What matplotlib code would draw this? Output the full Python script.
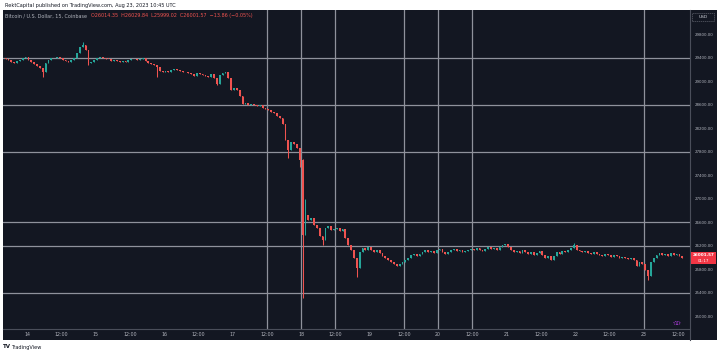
import matplotlib
matplotlib.use("Agg")
import matplotlib.pyplot as plt
from matplotlib.patches import Rectangle, Circle
from matplotlib.lines import Line2D
import numpy as np

# ---------------- data (hourly candles, hours relative to Aug 14 00:00) ----------------
first_open = 29400
closes = [
    29383, 29366, 29332, 29315, 29349, 29366, 29400, 29417, 29366, 29332,
    29298, 29264, 29230, 29162, 29315, 29366, 29400, 29395, 29417, 29400,
    29366, 29349, 29332, 29366, 29400, 29485, 29587, 29621, 29536, 29315,
    29332, 29366, 29400, 29417, 29405, 29390, 29383, 29349, 29366, 29349,
    29332, 29349, 29332, 29366, 29383, 29378, 29366, 29383, 29400, 29349,
    29315, 29298, 29281, 29247, 29179, 29162, 29179, 29162, 29196, 29213,
    29196, 29179, 29162, 29155, 29145, 29128, 29094, 29145, 29128, 29111,
    29094, 29077, 29128, 29060, 28957, 29111, 29145, 29162, 29060, 28855,
    28889, 28855, 28753, 28617, 28634, 28600, 28617, 28600, 28583, 28600,
    28549, 28532, 28515, 28481, 28464, 28413, 28379, 28277, 28004, 27834,
    27970, 27936, 27868, 27664, 26387, 26728, 26643, 26677, 26558, 26506,
    26370, 26302, 26506, 26541, 26472, 26489, 26506, 26455, 26489, 26336,
    26217, 26132, 25996, 25826, 26098, 26166, 26132, 26183, 26132, 26098,
    26132, 26081, 26030, 25996, 25962, 25928, 25894, 25860, 25894, 25928,
    25962, 25996, 26047, 26064, 26030, 26064, 26098, 26132, 26098, 26115,
    26081, 26132, 26149, 26098, 26064, 26098, 26132, 26149, 26115, 26132,
    26098, 26115, 26132, 26149, 26132, 26166, 26132, 26115, 26149, 26183,
    26149, 26166, 26132, 26183, 26217, 26234, 26183, 26132, 26098, 26115,
    26081, 26132, 26098, 26064, 26098, 26047, 26081, 26115, 26047, 25996,
    26030, 25962, 26030, 26098, 26064, 26115, 26098, 26132, 26166, 26217,
    26132, 26115, 26098, 26115, 26081, 26064, 26098, 26064, 26047, 26030,
    26064, 26047, 26013, 26047, 26030, 25996, 26013, 25996, 25979, 25996,
    25962, 25860, 25928, 25894, 25792, 25690, 25928, 25996, 26047, 26081,
    26047, 26064, 26030, 26081, 26047, 26064, 26030, 26001.57,
]
wick_highs = {27: 29672, 104: 27680, 105: 27000, 199: 26250}
wick_lows = {13: 29077, 29: 29281, 53: 29077, 74: 28940, 99: 27700,
             103: 27545, 104: 25315, 111: 26217, 123: 25673, 225: 25622}

level_prices = [29400, 28600, 27800, 26600, 26200, 25400]
vline_hours = [84, 96, 108, 132, 144, 156, 216]

price_ticks = [29800, 29400, 29000, 28600, 28200, 27800, 27400, 27000,
               26600, 26200, 25800, 25400, 25000]
time_tick_labels = ["14", "12:00", "15", "12:00", "16", "12:00", "17", "12:00",
                    "18", "12:00", "19", "12:00", "20", "12:00", "21", "12:00",
                    "22", "12:00", "23", "12:00"]
time_tick_hours = [12 * k for k in range(len(time_tick_labels))]

last_price_label = "26001.57"
countdown_label = "01:17"

# ---------------- figure ----------------
W, H = 720, 354
fig = plt.figure(figsize=(7.2, 3.54), dpi=100)
fig.patch.set_facecolor("white")

def fx(px):
    return px / W

def fy(py):
    return 1 - py / H

BG = "#131722"
UP = "#26a69a"
DN = "#ef5350"
GRID = "#8f929c"
BORDER = "#4a4e5a"
TXT = "#b2b5be"

bgax = fig.add_axes([fx(3), fy(340), fx(714), 330 / H], zorder=-5)
bgax.set_facecolor(BG)
bgax.set_xticks([])
bgax.set_yticks([])
for s in bgax.spines.values():
    s.set_visible(False)

ax = fig.add_axes([fx(3), fy(329), fx(687), 319 / H], zorder=1)
ax.set_facecolor("none")
ax.set_xlim(-8.41, 232.2)
ax.set_ylim(24787, 30217)
for s in ax.spines.values():
    s.set_visible(False)

n = len(closes)
hours = np.arange(n) - 8 + 0.5   # each hourly candle drawn at the middle of its hour
opens = np.array([first_open] + closes[:-1], dtype=float)
cl = np.array(closes, dtype=float)
highs = np.maximum(opens, cl)
lows = np.minimum(opens, cl)
for k, v in wick_highs.items():
    highs[k] = max(highs[k], v)
for k, v in wick_lows.items():
    lows[k] = min(lows[k], v)
colors = [UP if c >= o else DN for o, c in zip(opens, cl)]
body_bottom = np.minimum(opens, cl)
body_h = np.maximum(np.abs(cl - opens), 10)

for lv in level_prices:
    ax.axhline(lv, color=GRID, lw=0.9, zorder=1)
for vh in vline_hours:
    ax.axvline(vh, color=GRID, lw=0.9, zorder=1)

ax.vlines(hours, lows, highs, colors=colors, lw=0.75, zorder=3)
ax.bar(hours, body_h, bottom=body_bottom, width=0.62, color=colors,
       linewidth=0, zorder=4)

ax.yaxis.tick_right()
ax.set_yticks(price_ticks)
ax.set_yticklabels([f"{p:.2f}" for p in price_ticks])
ax.tick_params(axis="y", length=0, pad=3.5, labelsize=2.9, labelcolor=TXT)
ax.set_xticks(time_tick_hours)
ax.set_xticklabels(time_tick_labels)
ax.tick_params(axis="x", length=0, pad=2.5, labelsize=3.4, labelcolor=TXT)

# axis borders
fig.add_artist(Line2D([fx(690), fx(690)], [fy(10), fy(340)], color=BORDER, lw=0.8))
fig.add_artist(Line2D([fx(3), fx(690)], [fy(329), fy(329)], color=BORDER, lw=0.8))

# header texts
fig.text(fx(5), fy(5), "RektCapital published on TradingView.com, Aug 23, 2023 10:45 UTC",
         fontsize=3.6, color="#131722", va="center", ha="left")
t1 = fig.text(fx(5), fy(16), "Bitcoin / U.S. Dollar, 15, Coinbase",
              fontsize=3.5, color=TXT, va="center", ha="left")
fig.canvas.draw()
ext = t1.get_window_extent()
fig.text((ext.x1 + 4) / W, fy(16),
         "O26014.35  H26029.84  L25999.02  C26001.57  \u221213.86 (\u22120.05%)",
         fontsize=3.5, color=DN, va="center", ha="left")

# USD box
fig.patches.append(Rectangle((fx(692), fy(21)), fx(22), 8 / H, transform=fig.transFigure,
                             fc="none", ec="#5d606b", lw=0.5, ls=(0, (2, 1)), zorder=5))
fig.text(fx(703), fy(17), "USD", fontsize=3.2, color="#d1d4dc", ha="center", va="center")

# last price label
fig.patches.append(Rectangle((fx(691), fy(264)), fx(25), 12 / H, transform=fig.transFigure,
                             fc="#f23645", ec="none", zorder=5))
fig.text(fx(703.5), fy(255.3), last_price_label, fontsize=3.0, color="white",
         ha="center", va="center", zorder=6, fontweight="bold")
fig.text(fx(703.5), fy(261), countdown_label, fontsize=2.9, color="white",
         ha="center", va="center", zorder=6)

# purple icon
fig.patches.append(Circle((fx(677), fy(323)), 3.2 / W, transform=fig.transFigure,
                          fc="none", ec="#a93ad6", lw=0.6, ls=(0, (1.5, 1)), zorder=5))
fig.patches.append(Circle((fx(677), fy(323)), 1.0 / W, transform=fig.transFigure,
                          fc="#a93ad6", ec="none", zorder=5))

# bottom logo
fig.text(fx(3), fy(347), "TV", fontsize=4.0, color="#131722", fontweight="bold",
         ha="left", va="center")
fig.text(fx(11), fy(347), "TradingView", fontsize=3.6, color="#131722",
         ha="left", va="center")

fig.savefig("out.png", dpi=100, facecolor="white")
